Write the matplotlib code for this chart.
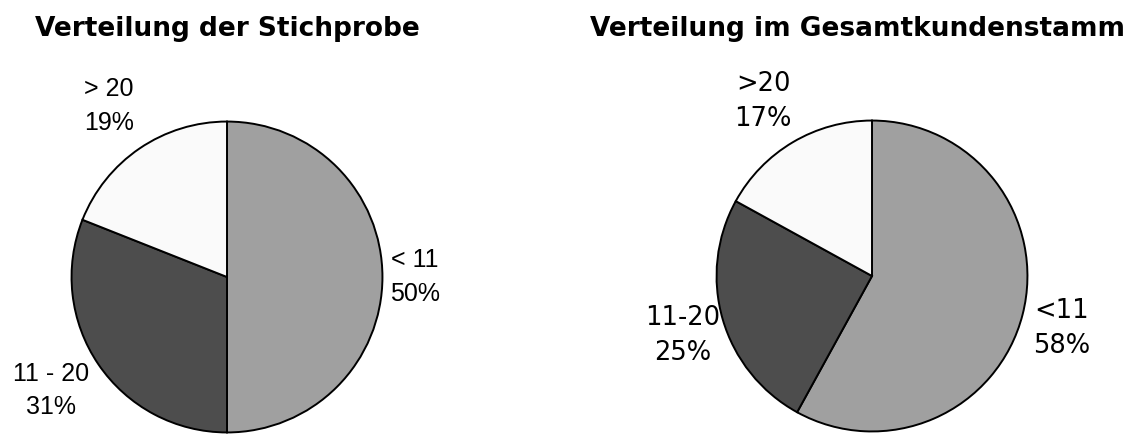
import matplotlib
matplotlib.use("Agg")
import matplotlib.pyplot as plt

# data
left_title = "Verteilung der Stichprobe"
right_title = "Verteilung im Gesamtkundenstamm"
left_labels = ["< 11", "11 - 20", "> 20"]
left_values = [50, 31, 19]
right_labels = ["<11", "11-20", ">20"]
right_values = [58, 25, 17]

colors = ["#a0a0a0", "#4d4d4d", "#fafafa"]

# label centres, in units of the pie radius
left_pos = [(1.21, 0.0), (-1.13, -0.73), (-0.76, 1.10)]
right_pos = [(1.22, -0.34), (-1.22, -0.38), (-0.70, 1.12)]

W, H = 1131, 434
fig = plt.figure(figsize=(W / 100, H / 100), dpi=100)


def make_pie(cx, cy, r, values, labels, pos, family, size, ls):
    ax = fig.add_axes([(cx - r) / W, (H - cy - r) / H, 2 * r / W, 2 * r / H])
    ax.pie(values, colors=colors, startangle=90, counterclock=False,
           radius=1.0, wedgeprops=dict(edgecolor="black", linewidth=1.4))
    ax.set_xlim(-1.01, 1.01)
    ax.set_ylim(-1.01, 1.01)
    ax.set_aspect("equal")
    ax.axis("off")
    for lab, v, (x, y) in zip(labels, values, pos):
        ax.text(x, y, "%s\n%d%%" % (lab, v), ha="center", va="center",
                multialignment="center", fontsize=size, family=family,
                linespacing=ls, clip_on=False)
    return ax


make_pie(227, 277, 157, left_values, left_labels, left_pos,
         "Liberation Sans", 18, 1.5)
make_pie(872, 276, 157, right_values, right_labels, right_pos,
         "DejaVu Sans", 18.5, 1.45)

fig.text(227 / W, 1 - 36 / H, left_title, ha="center", va="baseline",
         fontsize=19, fontweight="bold", family="DejaVu Sans")
fig.text(858 / W, 1 - 36 / H, right_title, ha="center", va="baseline",
         fontsize=19, fontweight="bold", family="DejaVu Sans")

fig.savefig("out.png", dpi=100, facecolor="white")
